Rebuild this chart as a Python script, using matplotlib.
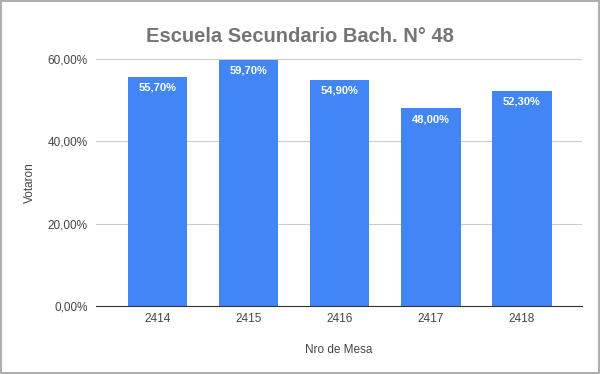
import matplotlib.pyplot as plt
from matplotlib.patches import Rectangle

mesas = ["2414", "2415", "2416", "2417", "2418"]
votaron = [0.557, 0.597, 0.549, 0.480, 0.523]
yticks = [0.0, 0.2, 0.4, 0.6]

BLUE = "#4285f4"
GRAY = "#444444"

plt.rcParams["font.family"] = ["Liberation Sans", "DejaVu Sans"]

fig = plt.figure(figsize=(6.0, 3.74), dpi=100)
ax = fig.add_axes([96 / 600, 1 - 306 / 374, (582 - 96) / 600, (306 - 59) / 374])

x = range(len(mesas))
bars = ax.bar(x, votaron, width=0.65, color=BLUE, zorder=3)
for b, v in zip(bars, votaron):
    ax.text(b.get_x() + b.get_width() / 2, v - 0.026,
            f"{v * 100:.2f}%".replace(".", ","),
            ha="center", va="center", color="white", fontsize=8, fontweight="bold", zorder=4)

ax.set_xlim(-0.68, 4.66)
ax.set_ylim(0, 0.6)
ax.set_xticks(list(x))
ax.set_xticklabels(mesas)
ax.set_yticks(yticks)
ax.set_yticklabels([f"{t * 100:.2f}%".replace(".", ",") for t in yticks])
ax.tick_params(axis="both", length=0, colors=GRAY, labelsize=8.5)
ax.tick_params(axis="x", pad=5)
ax.tick_params(axis="y", pad=6)
ax.grid(axis="y", color="#cccccc", linewidth=0.8, zorder=0)
for s in ["top", "right", "left"]:
    ax.spines[s].set_visible(False)
ax.spines["bottom"].set_color("#333333")
ax.spines["bottom"].set_zorder(5)

ax.set_xlabel("Nro de Mesa", fontsize=8.5, color=GRAY, labelpad=14)
ax.set_ylabel("Votaron", fontsize=8.5, color=GRAY, labelpad=8)
fig.text(0.5, 1 - 36 / 374, "Escuela Secundario Bach. N° 48", ha="center", va="center",
         fontsize=14.5, fontweight="bold", color="#757575")

fig.patches.append(Rectangle((0.001, 0.002), 0.997, 0.995, transform=fig.transFigure,
                             fill=False, edgecolor="#9e9e9e", linewidth=1.2))

fig.savefig("out.png", dpi=100, facecolor="white")
